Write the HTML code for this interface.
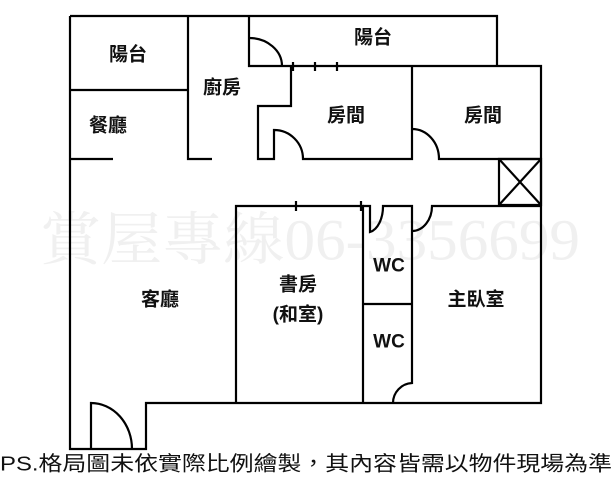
<!DOCTYPE html>
<html><head><meta charset="utf-8"><style>
body{margin:0;background:#fff;width:612px;height:479px;overflow:hidden}
svg{display:block}
.l{font-family:"Liberation Sans","Noto Sans CJK TC",sans-serif;font-weight:bold;font-size:19px;fill:#111;text-anchor:middle;dominant-baseline:central}
</style></head><body>
<svg width="612" height="479" viewBox="0 0 612 479">
<text x="40" y="240" font-family="'Liberation Serif','Noto Serif CJK SC',serif" font-size="58" fill="#f0f0f0" dominant-baseline="central" textLength="540" lengthAdjust="spacingAndGlyphs">賞屋專線06-3356699</text>
<g stroke="#000" stroke-width="2.2" fill="none">
<path d="M70,16H497V66M70,16V449H146V403H541V66H249V16"/>
<path d="M70,90H188M188,16V159H212M70,159H113"/>
<path d="M249,38A33,28 0 0 1 282,66"/>
<path d="M293,62V71M315,62V71M337,62V71"/>
<path d="M291,66V106H258V159H274V130A29,29 0 0 1 303,159H412V66"/>
<path d="M412,129A27,30 0 0 1 439,159H541"/>
<path d="M499,159H541V205H499ZM499,159L541,205M541,159L499,205"/>
<path d="M236,403V206H363V403M296,201V211M361,201V211"/>
<path d="M363,206H370V232A16,26 0 0 0 383,206H412V383A20,20 0 0 0 393,403"/>
<path d="M412,231A20,25 0 0 0 432,206H541"/>
<path d="M363,304H412"/>
<path d="M91,449V403A41,46 0 0 1 132,449"/>
</g>
<text class="l" x="128" y="55">陽台</text>
<text class="l" x="108" y="126">餐廳</text>
<text class="l" x="222" y="88">廚房</text>
<text class="l" x="373" y="38">陽台</text>
<text class="l" x="346" y="116">房間</text>
<text class="l" x="483" y="116">房間</text>
<text class="l" x="160" y="300">客廳</text>
<text class="l" x="298" y="285">書房</text>
<text class="l" x="298" y="315">(和室)</text>
<text class="l" x="389" y="266">WC</text>
<text class="l" x="389" y="342">WC</text>
<text class="l" x="476" y="300">主臥室</text>
<text x="0" y="464" font-family="'Liberation Sans','Noto Sans CJK TC',sans-serif" font-size="20.5" fill="#111" dominant-baseline="central" textLength="612" lengthAdjust="spacingAndGlyphs">PS.格局圖未依實際比例繪製，其內容皆需以物件現場為準</text>
</svg>
</body></html>
